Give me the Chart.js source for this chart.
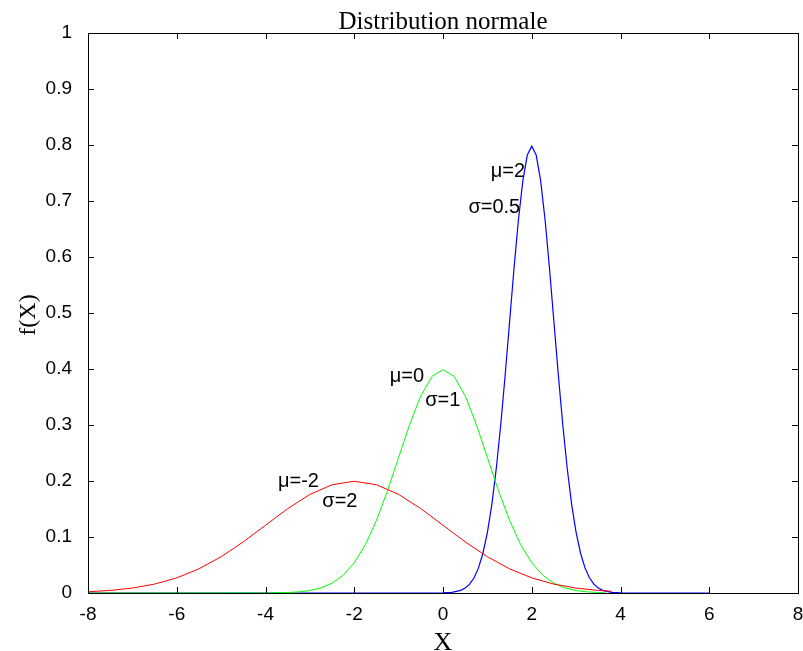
<!DOCTYPE html>
<html lang="fr">
<head>
    <meta charset="UTF-8">
    <title>Distribution normale</title>
    <script src="https://cdn.jsdelivr.net/npm/chart.js"></script>
    <style>
        body{ margin:0; background:#fff; }
        #zone{ width:803px; height:651px; position:relative; }
    </style>
</head>
<body>
<div id="zone"><canvas id="graf"></canvas></div>
<script>
    // valeurs
    const xTicks = [-8, -6, -4, -2, 0, 2, 4, 6, 8];
    const yTicks = [0, 0.1, 0.2, 0.3, 0.4, 0.5, 0.6, 0.7, 0.8, 0.9, 1];

    // mu=-2, sigma=2 (rouge)
    const rougeX = [-8, -7.5, -7, -6.5, -6, -5.5, -5, -4.5, -4, -3.5, -3, -2.5, -2, -1.5, -1, -0.5, 0, 0.5, 1, 1.5, 2, 2.5, 3, 3.5, 3.8];
    const rougeY = [0.0022, 0.0046, 0.0088, 0.0159, 0.0270, 0.0431, 0.0648, 0.0913, 0.1210, 0.1506, 0.1760, 0.1933, 0.1995, 0.1933, 0.1760, 0.1506, 0.1210, 0.0913, 0.0648, 0.0431, 0.0270, 0.0159, 0.0088, 0.0046, 0.0030];

    // mu=0, sigma=1 (vert)
    const vertX = [-8, -4, -3.5, -3.25, -3, -2.75, -2.5, -2.25, -2, -1.75, -1.5, -1.25, -1, -0.75, -0.5, -0.25, 0, 0.25, 0.5, 0.75, 1, 1.25, 1.5, 1.75, 2, 2.25, 2.5, 2.75, 3, 3.25, 3.5, 3.65];
    const vertY = [0, 0.0001, 0.0009, 0.0020, 0.0044, 0.0091, 0.0175, 0.0317, 0.0540, 0.0863, 0.1295, 0.1827, 0.2420, 0.3011, 0.3521, 0.3867, 0.3989, 0.3867, 0.3521, 0.3011, 0.2420, 0.1827, 0.1295, 0.0863, 0.0540, 0.0317, 0.0175, 0.0091, 0.0044, 0.0020, 0.0009, 0.0005];

    // mu=2, sigma=0.5 (bleu)
    const bleuX = [-8, 0, 0.2, 0.4, 0.5, 0.6, 0.7, 0.8, 0.9, 1, 1.1, 1.2, 1.3, 1.4, 1.5, 1.6, 1.7, 1.8, 1.9, 2, 2.1, 2.2, 2.3, 2.4, 2.5, 2.6, 2.7, 2.8, 2.9, 3, 3.1, 3.2, 3.3, 3.4, 3.5, 3.6, 3.8, 4, 6];
    const bleuY = [0, 0.0003, 0.0012, 0.0048, 0.0089, 0.0158, 0.0272, 0.0448, 0.0710, 0.1080, 0.1579, 0.2218, 0.2995, 0.3884, 0.4839, 0.5794, 0.6665, 0.7365, 0.7821, 0.7979, 0.7821, 0.7365, 0.6665, 0.5794, 0.4839, 0.3884, 0.2995, 0.2218, 0.1579, 0.1080, 0.0710, 0.0448, 0.0272, 0.0158, 0.0089, 0.0048, 0.0012, 0.0003, 0];

    // textes sur la courbe: [texte, x, y, alignement]
    const etiquettes = [
        ['\u03bc=2', 1.85, 0.752, 'right'],
        ['\u03c3=0.5', 1.74, 0.689, 'right'],
        ['\u03bc=0', -1.2, 0.386, 'left'],
        ['\u03c3=1', -0.4, 0.343, 'left'],
        ['\u03bc=-2', -3.72, 0.200, 'left'],
        ['\u03c3=2', -2.72, 0.164, 'left']
    ];

    const pts = (xs, ys) => xs.map((v, i) => ({x: v, y: ys[i]}));

    const sans = 'Liberation Sans, Arial, sans-serif';
    const serif = 'Liberation Serif, Times New Roman, serif';

    // cadre, graduations internes et textes
    const decor = {
        id: 'decor',
        afterDraw(chart){
            const {ctx, chartArea: a, scales: {x, y}} = chart;
            ctx.save();
            ctx.strokeStyle = '#000';
            ctx.lineWidth = 1;
            ctx.strokeRect(a.left + 0.5, a.top + 0.5, a.width, a.height);
            ctx.beginPath();
            xTicks.forEach(v => {
                const px = Math.round(x.getPixelForValue(v)) + 0.5;
                ctx.moveTo(px, a.bottom); ctx.lineTo(px, a.bottom - 6);
                ctx.moveTo(px, a.top); ctx.lineTo(px, a.top + 6);
            });
            yTicks.forEach(v => {
                const py = Math.round(y.getPixelForValue(v)) + 0.5;
                ctx.moveTo(a.left, py); ctx.lineTo(a.left + 6, py);
                ctx.moveTo(a.right, py); ctx.lineTo(a.right - 6, py);
            });
            ctx.stroke();

            ctx.fillStyle = '#000';
            ctx.textBaseline = 'middle';
            ctx.font = '20px ' + sans;
            etiquettes.forEach(([t, vx, vy, al]) => {
                ctx.textAlign = al;
                ctx.fillText(t, x.getPixelForValue(vx), y.getPixelForValue(vy));
            });

            ctx.textAlign = 'center';
            ctx.textBaseline = 'alphabetic';
            ctx.font = '25px ' + serif;
            ctx.fillText('Distribution normale', (a.left + a.right) / 2, 29);
            ctx.font = '26px ' + serif;
            ctx.fillText('X', (a.left + a.right) / 2, 650);

            ctx.translate(35, (a.top + a.bottom) / 2 + 2);
            ctx.rotate(-Math.PI / 2);
            ctx.font = '24px ' + serif;
            ctx.fillText('f(X)', 0, 0);
            ctx.restore();
        }
    };

    const ctx = document.getElementById('graf').getContext('2d');
    new Chart(ctx, {
        type: 'line',
        data: {
            datasets: [
                { data: pts(rougeX, rougeY), borderColor: '#ff0000', borderWidth: 1 },
                { data: pts(vertX, vertY), borderColor: '#00ff00', borderWidth: 1 },
                { data: pts(bleuX, bleuY), borderColor: '#0000ff', borderWidth: 1.2 }
            ]
        },
        options: {
            responsive: true,
            maintainAspectRatio: false,
            animation: false,
            elements: { point: { radius: 0 }, line: { tension: 0 } },
            layout: { padding: { top: 33, right: 5, left: 0, bottom: 0 } },
            plugins: { legend: { display: false }, tooltip: { enabled: false } },
            scales: {
                x: {
                    type: 'linear', min: -8, max: 8,
                    afterBuildTicks: s => { s.ticks = xTicks.map(v => ({value: v})); },
                    afterFit: s => { s.height = 58; s.paddingLeft = 0; s.paddingRight = 0; },
                    ticks: { color: '#000', padding: 2, font: { family: sans, size: 19 }, maxRotation: 0 },
                    grid: { display: false },
                    border: { display: false }
                },
                y: {
                    min: 0, max: 1,
                    afterBuildTicks: s => { s.ticks = yTicks.map(v => ({value: v})); },
                    afterFit: s => { s.width = 88; s.paddingTop = 0; s.paddingBottom = 0; },
                    ticks: { color: '#000', padding: 8, font: { family: sans, size: 19 },
                             callback: v => String(Math.round(v * 10) / 10) },
                    grid: { display: false },
                    border: { display: false }
                }
            }
        },
        plugins: [decor]
    });
</script>
</body>
</html>
